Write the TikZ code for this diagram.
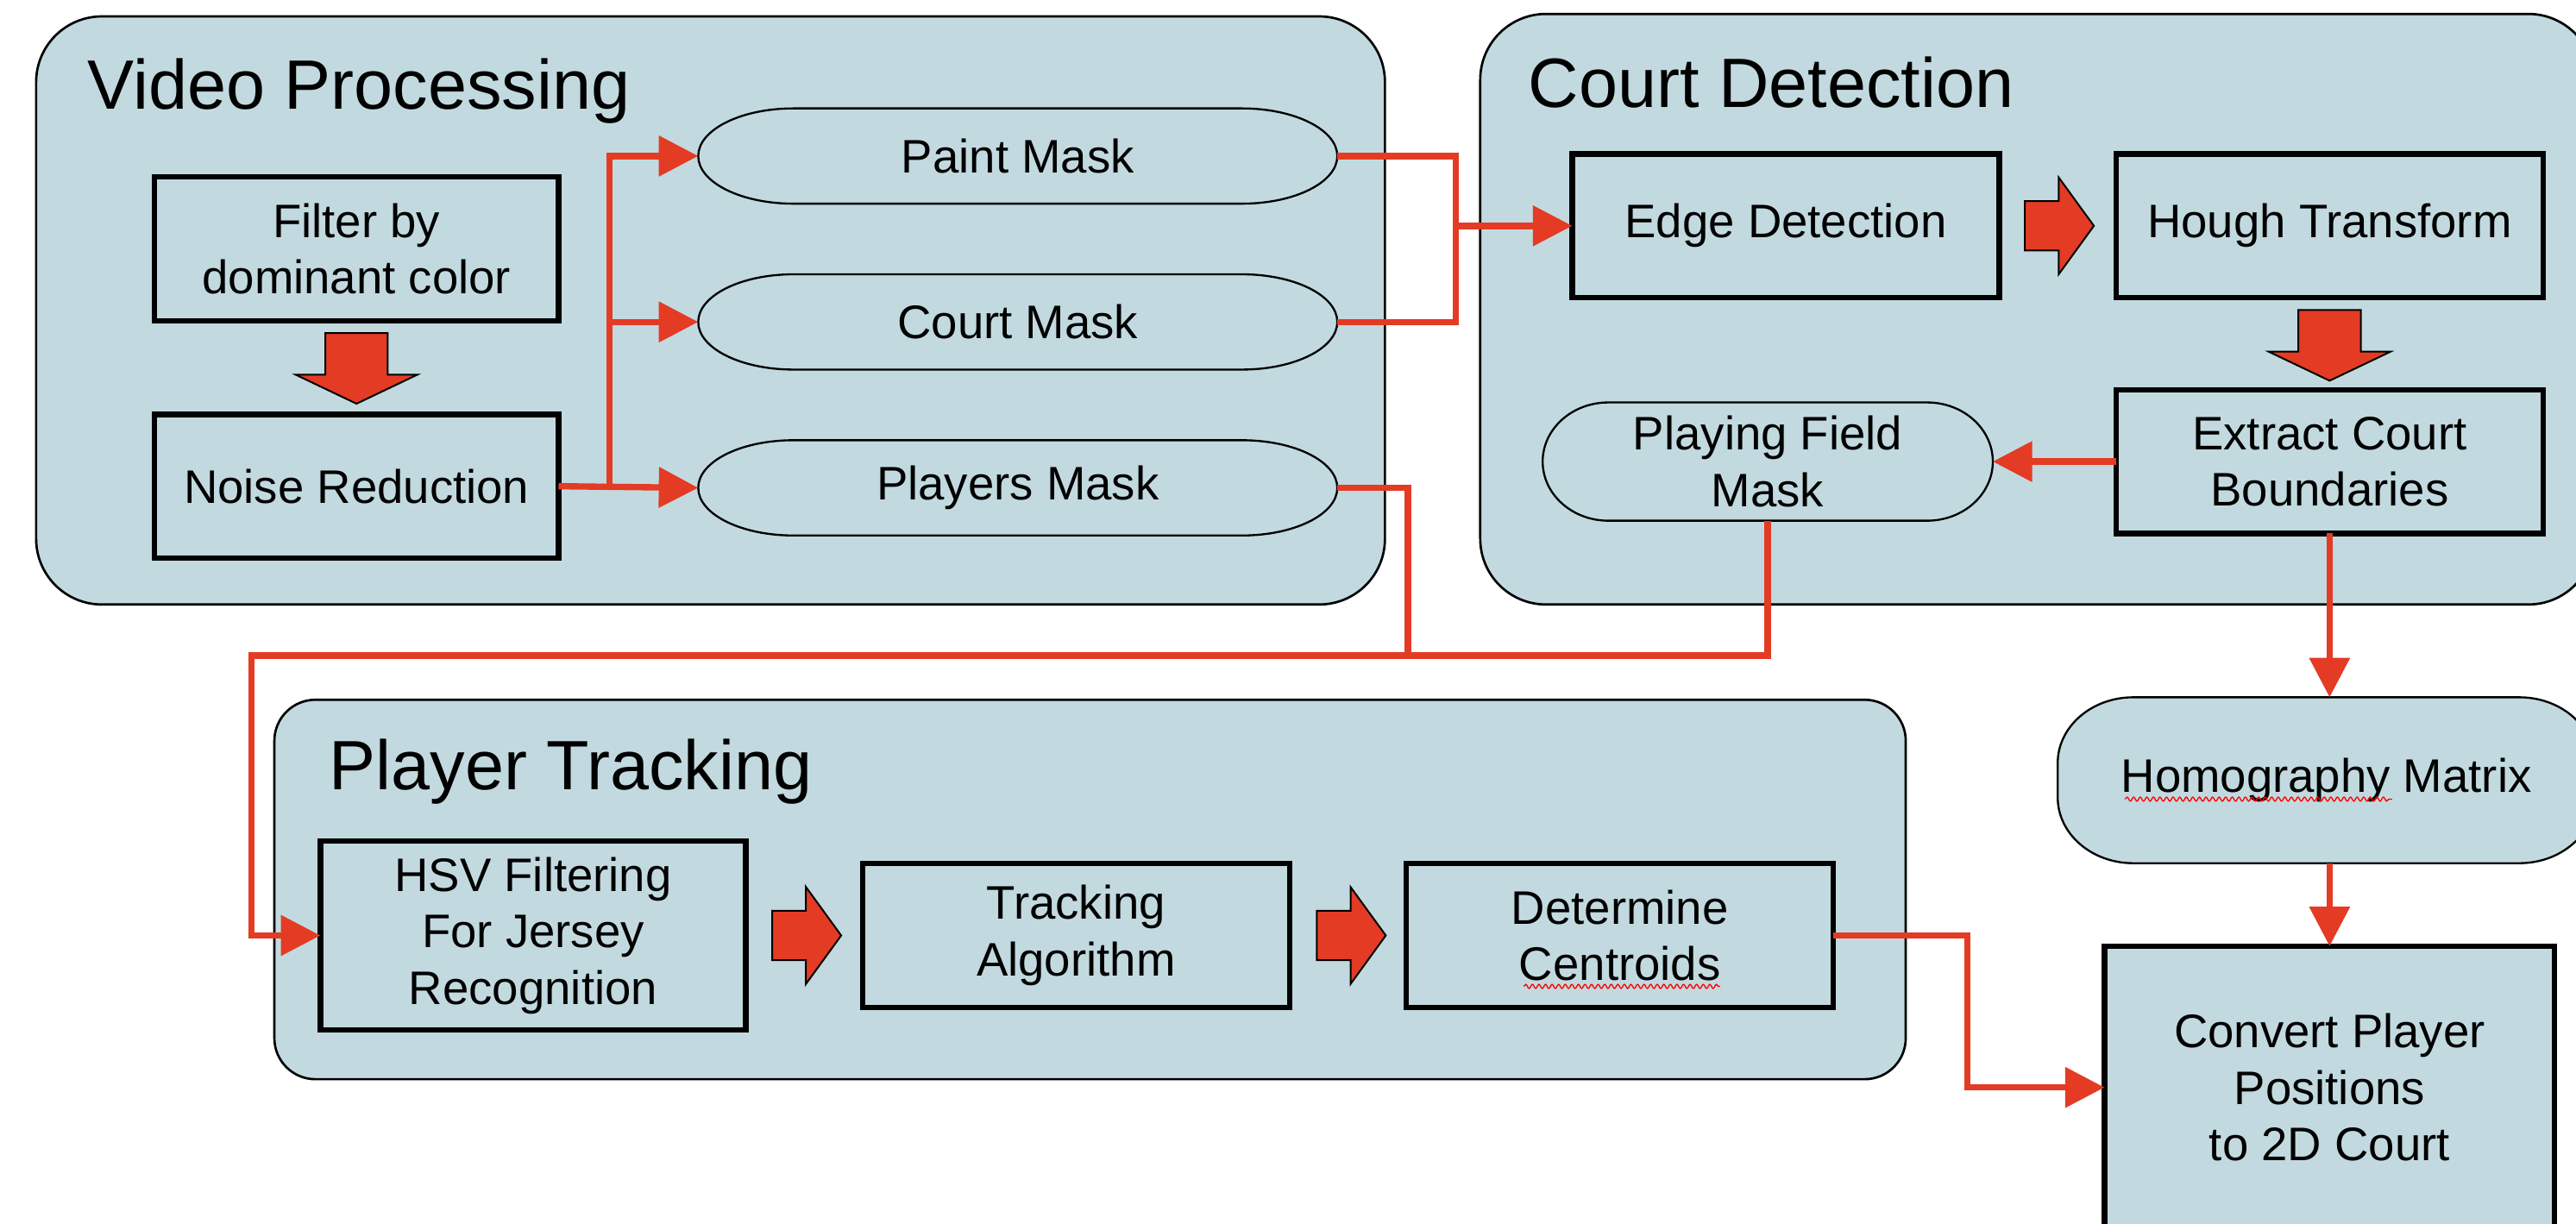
\documentclass[tikz,border=0pt]{standalone}
\usepackage{fontspec}
\setmainfont{Liberation Sans}
\usepackage{xcolor}
\usetikzlibrary{arrows.meta, positioning, shapes, calc, backgrounds, decorations.pathmorphing}

\definecolor{panelBlue}{RGB}{194,218,223}
\definecolor{flowRed}{RGB}{228,59,36}

\begin{document}
\begin{tikzpicture}[
    box/.style={rectangle, draw, line width=1.9pt, fill=panelBlue, minimum width=5.2cm, minimum height=1.75cm, align=center, inner sep=0pt, outer sep=0pt, font=\fontsize{16.3}{19.6}\selectfont},
    masknode/.style={rectangle, minimum width=7.78cm, minimum height=1.16cm, align=center, inner sep=0pt, outer sep=0pt, font=\fontsize{16.3}{19.6}\selectfont},
    capsule/.style={draw, line width=0.7pt, fill=panelBlue},
    group/.style={rectangle, draw, line width=0.8pt, fill=panelBlue, rounded corners=0.8cm, outer sep=0pt},
    grouptitle/.style={anchor=base west, inner sep=0pt, font=\fontsize{24.2}{29}\selectfont},
    fatarrow/.style={single arrow, draw, line width=0.6pt, fill=flowRed, inner xsep=0pt, anchor=tail},
    fatright/.style={fatarrow, inner ysep=0.29cm, single arrow head extend=0.29cm, single arrow tip angle=108, minimum height=0.84cm},
    fatdown/.style={fatarrow, rotate=-90, inner ysep=0.37cm, single arrow head extend=0.36cm, single arrow tip angle=129, minimum height=0.86cm},
    link/.style={draw=flowRed, line width=2.2pt},
    linkto/.style={link, -{Triangle[length=0.48cm, width=0.48cm]}},
    squiggle/.style={draw=red, line width=0.4pt, decorate, decoration={snake, amplitude=0.025cm, segment length=0.08cm}},
]
    \useasboundingbox (0,0) rectangle (31.36,14.9);

    % Video processing
    \node[box, minimum width=4.92cm] (filter) at (4.34,11.87) {Filter by\\dominant color};
    \node[box, minimum width=4.92cm, below=1.14cm of filter] (noise) {Noise Reduction};
    \node[masknode] (paint) at (12.39,13.0) {Paint Mask};
    \node[masknode, below=0.86cm of paint] (court) {Court Mask};
    \node[masknode, below=0.86cm of court] (players) {Players Mask};

    % Court detection
    \node[box] (edge) at (21.74,12.15) {Edge Detection};
    \node[box, right=1.42cm of edge] (hough) {Hough Transform};
    \node[box, below=1.12cm of hough] (extract) {Extract Court\\Boundaries};
    \node[masknode, minimum width=5.48cm, minimum height=1.44cm] (field) at (21.52,9.28) {Playing Field\\Mask};

    % Homography and output
    \node[masknode, minimum width=6.54cm, minimum height=2.02cm] (homog) at (28.32,5.4) {Homography Matrix};
    \node[box, minimum width=5.48cm, minimum height=3.44cm] (convert) at (28.36,1.66) {Convert Player\\Positions\\to 2D Court};

    % Player tracking
    \node[box, minimum width=5.18cm, minimum height=2.3cm] (hsv) at (6.49,3.51) {HSV Filtering\\For Jersey\\Recognition};
    \node[box, right=1.42cm of hsv] (tracking) {Tracking\\Algorithm};
    \node[box, right=1.42cm of tracking] (centroids) {Determine\\Centroids};

    % Block arrows
    \node[fatdown] (fa1) at ($(filter.south)+(0,-0.14)$) {};
    \node[fatright] (fa2) at ($(edge.east)+(0.3,0)$) {};
    \node[fatdown] (fa3) at ($(hough.south)+(0,-0.14)$) {};
    \node[fatright] (fa4) at ($(hsv.east)+(0.31,0)$) {};
    \node[fatright] (fa5) at ($(tracking.east)+(0.32,0)$) {};

    % Panels and capsules behind
    \begin{scope}[on background layer]
        \node[group, minimum width=16.42cm, minimum height=7.16cm] (video) at (8.65,11.12) {};
        \node[group, minimum width=13.56cm, minimum height=7.19cm] (courtdet) at (24.8,11.135) {};
        \node[group, rounded corners=0.5cm, minimum width=19.86cm, minimum height=4.62cm] (tracker) at (13.27,4.07) {};
        \foreach \n/\rx/\ry in {paint/1.16/0.58, court/1.16/0.58, players/1.16/0.58, field/0.8/0.72, homog/0.92/0.8}
            \filldraw[capsule] ([xshift=\rx cm]\n.north west) -- ([xshift=-\rx cm]\n.north east)
                arc[start angle=90, end angle=0, x radius=\rx cm, y radius=\ry cm]
                -- ([yshift=\ry cm]\n.south east)
                arc[start angle=0, end angle=-90, x radius=\rx cm, y radius=\ry cm]
                -- ([xshift=\rx cm]\n.south west)
                arc[start angle=270, end angle=180, x radius=\rx cm, y radius=\ry cm]
                -- ([yshift=-\ry cm]\n.north west)
                arc[start angle=180, end angle=90, x radius=\rx cm, y radius=\ry cm]
                -- cycle;
    \end{scope}

    % Titles
    \node[grouptitle] at ($(video.north west)+(0.62,-1.13)$) {Video Processing};
    \node[grouptitle] at ($(courtdet.north west)+(0.58,-1.14)$) {Court Detection};
    \node[grouptitle] at ($(tracker.north west)+(0.66,-1.1)$) {Player Tracking};

    % Noise reduction to the masks
    \coordinate (split) at ($(noise.east)+(0.62,0)$);
    \draw[linkto] (noise.east) -- (players.west);
    \draw[linkto] (split) |- (court.west);
    \draw[linkto] (split) |- (paint.west);

    % Masks into edge detection
    \coordinate (merge) at ($(edge.west)+(-1.42,0)$);
    \draw[link] (paint.east) -| (merge) |- (court.east);
    \draw[linkto] (merge) -- (edge.west);

    % Players mask and playing field mask to tracking
    \coordinate (drop) at ($(players.east)+(0.86,0)$);
    \coordinate (turn) at ($(hsv.west)+(-0.84,3.41)$);
    \draw[linkto] (players.east) -- (drop) |- (turn) |- (hsv.west);
    \draw[link] (field.south) |- (drop |- turn);

    % Court boundaries
    \draw[linkto] (extract.west) -- (field.east);
    \draw[linkto] (extract.south) -- (extract.south |- homog.north);
    \draw[linkto] (extract.south |- homog.south) -- (extract.south |- convert.north);

    % Centroids to conversion
    \coordinate (bend) at ($(centroids.east)+(1.63,0)$);
    \draw[linkto] (centroids.east) -- (bend) |- (convert.west);

    % Spelling marks
    \draw[squiggle] ($(homog.center)+(-2.45,-0.23)$) -- ($(homog.center)+(0.8,-0.23)$);
    \draw[squiggle] ($(centroids.center)+(-1.17,-0.62)$) -- ($(centroids.center)+(1.22,-0.62)$);
\end{tikzpicture}
\end{document}
